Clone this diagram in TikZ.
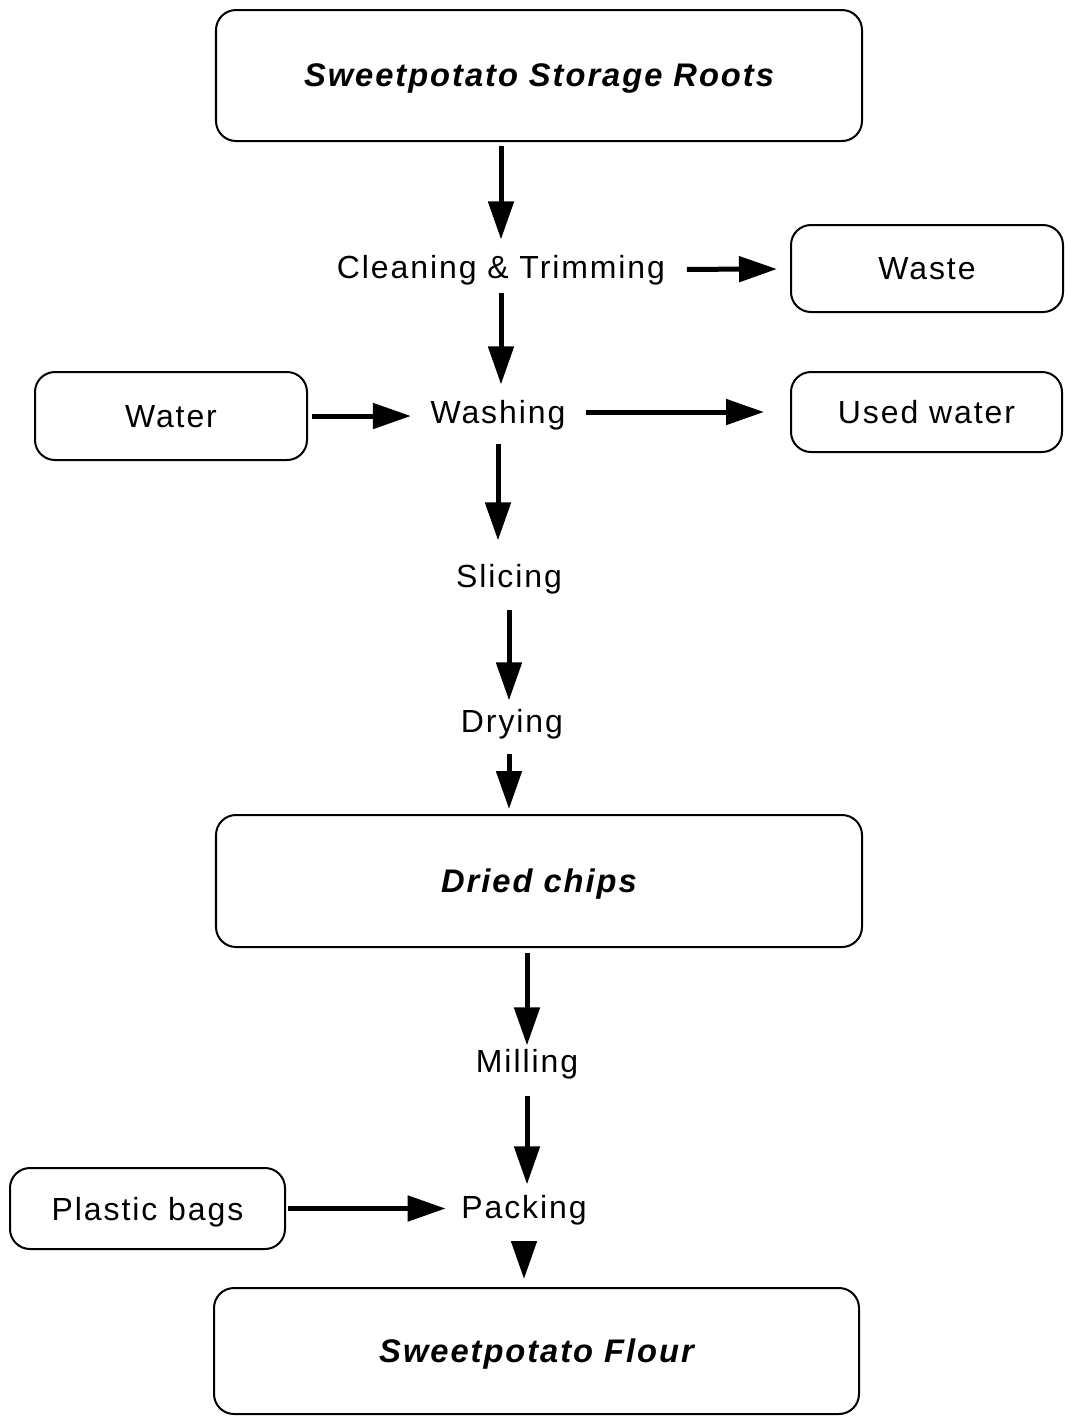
\documentclass[tikz,border=0pt]{standalone}
\usepackage{fontspec}
\setmainfont{Liberation Sans}[LetterSpace=6]
\usetikzlibrary{arrows.meta}

\begin{document}
\begin{tikzpicture}[every node/.style={font=\fontsize{9.1}{11}\selectfont},
  box/.style={draw,line width=0.02cm,rounded corners=0.2cm,inner sep=0,text depth=0pt},
  product/.style={box,font=\fontsize{9.3}{11}\selectfont\bfseries\itshape},
  stage/.style={inner sep=0},
  flow/.style={line width=0.05cm,-{Triangle[length=0.38cm,width=0.25cm]}}]
\useasboundingbox (0,0) rectangle (10.64,-14.16);
% main products
\node[product,minimum width=6.46cm,minimum height=1.31cm] (roots) at (5.39,-0.755) {Sweetpotato Storage Roots};
\node[product,minimum width=6.46cm,minimum height=1.32cm] (chips) at (5.39,-8.81) {Dried chips};
\node[product,minimum width=6.45cm,minimum height=1.26cm] (flour) at (5.365,-13.51) {Sweetpotato Flour};
% inputs and outputs
\node[box,minimum width=2.72cm,minimum height=0.87cm] (waste) at (9.27,-2.685) {Waste};
\node[box,minimum width=2.72cm,minimum height=0.88cm] (water) at (1.71,-4.16) {Water};
\node[box,minimum width=2.71cm,minimum height=0.80cm] (used) at (9.265,-4.12) {Used water};
\node[box,minimum width=2.75cm,minimum height=0.81cm] (bags) at (1.475,-12.085) {Plastic bags};
% steps
\node[stage] (clean) at (5.01,-2.70) {Cleaning \& Trimming};
\node[stage] (wash) at (4.98,-4.15) {Washing};
\node[stage] (slice) at (5.09,-5.79) {Slicing};
\node[stage] (dry) at (5.12,-7.24) {Drying};
\node[stage] (mill) at (5.27,-10.64) {Milling};
\node[stage] (pack) at (5.24,-12.10) {Packing};
% arrows
\draw[flow,shorten <=0.04cm,shorten >=0.15cm] (roots.south -| clean) -- (clean);
\draw[flow,shorten <=0.07cm,shorten >=0.15cm] (clean) -- (wash.north -| clean);
\draw[flow,shorten <=0.21cm,shorten >=0.13cm] (clean) -- (waste);
\draw[flow,shorten <=0.04cm,shorten >=0.19cm] (water) -- (wash.west |- water);
\draw[flow,shorten <=0.2cm,shorten >=0.26cm] (wash.east |- used) -- (used);
\draw[flow,shorten <=0.13cm,shorten >=0.23cm] (wash) -- (slice.north -| wash);
\draw[flow,shorten <=0.15cm,shorten >=0.08cm] (slice) -- (dry.north -| slice);
\draw[flow,shorten <=0.14cm,shorten >=0.05cm] (dry.south -| slice) -- (chips.north -| slice);
\draw[flow,shorten <=0.05cm,shorten >=0.03cm] (chips.south -| mill) -- (mill);
\draw[flow,shorten <=0.16cm,shorten >=0.1cm] (mill) -- (pack.north -| mill);
\draw[flow,shorten <=0.02cm,shorten >=0.15cm] (bags) -- (pack.west |- bags);
\draw[flow,shorten <=0.15cm,shorten >=0.08cm] (pack) -- (flour.north -| pack);
\end{tikzpicture}
\end{document}
